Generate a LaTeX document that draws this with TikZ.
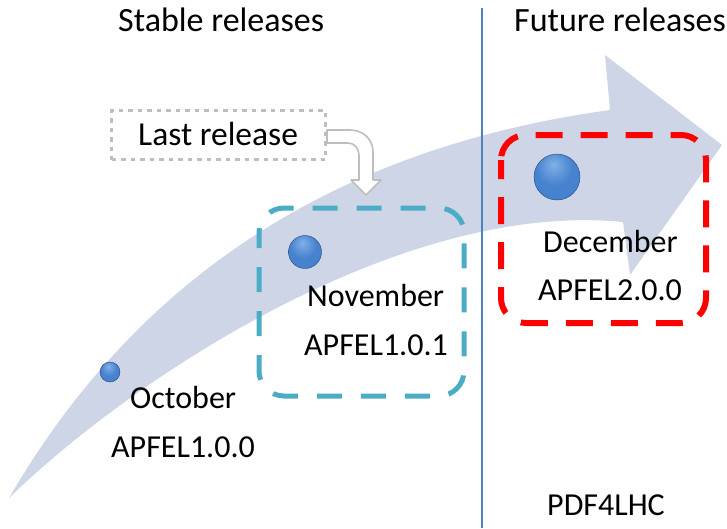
\documentclass[tikz,border=0pt]{standalone}
\usepackage{fontspec}
\setmainfont{Carlito}
\definecolor{arrowfill}{RGB}{206,213,230}
\definecolor{vline}{RGB}{79,129,189}
\definecolor{cyanbox}{RGB}{75,172,198}
\definecolor{redbox}{RGB}{255,0,0}
\definecolor{graybox}{RGB}{190,190,190}
\definecolor{bhi}{RGB}{130,176,232}
\definecolor{bmid}{RGB}{70,130,205}
\definecolor{bdark}{RGB}{40,90,160}
\pgfdeclareradialshading{ballblue}{\pgfpoint{-4bp}{14bp}}{color(0bp)=(bhi); color(20bp)=(bmid); color(42bp)=(bmid); color(52bp)=(bdark); color(80bp)=(bdark)}
\begin{document}
\begin{tikzpicture}[x=1pt,y=-1pt,
  lbl/.style={anchor=base west,inner sep=0pt,font=\fontsize{32}{36}\selectfont},
  ttl/.style={anchor=base west,inner sep=0pt,font=\fontsize{34}{38}\selectfont},
  ball/.style={circle,inner sep=0pt,shading=ballblue,draw=bdark!80!black,line width=0.4pt},
  relbox/.style={rounded corners=25pt,dashed},
]
\useasboundingbox (0,0) rectangle (727,528);
% big curved arrow
\fill[arrowfill] (9,498) .. controls (130,290) and (320,150) .. (610,110)
  -- (605,55) -- (722,145) -- (630,275) -- (623,222)
  .. controls (400,200) and (130,380) .. (9,498) -- cycle;
% separator line
\draw[vline,line width=2.5pt] (482,8) -- (482,528);
% release boxes
\draw[relbox,cyanbox,line width=5pt,dash pattern=on 25pt off 19pt,dash phase=10pt]
  (259,208) rectangle (464,396);
\draw[relbox,redbox,line width=6pt,dash pattern=on 27pt off 18pt,dash phase=8pt]
  (501,135) rectangle (706,323);
% last release callout
\node[draw=graybox,line width=3pt,dash pattern=on 4.5pt off 5pt,minimum width=214pt,minimum height=49pt,inner sep=0pt] (last) at (218.5,135) {};
\node[anchor=base west,inner sep=0pt,font=\fontsize{33.5}{38}\selectfont] (lasttxt) at (138,145) {Last release};
\filldraw[draw=graybox,fill=white,line width=1.6pt,line join=round]
  (last.east |- 0,130) -- (350,130) .. controls (363,130) and (373,139) .. (373,152)
  -- (373,180) -- (381,180) -- (366,195) -- (351,180) -- (359,180) -- (359,155)
  .. controls (359,148) and (354,143) .. (348,143) -- (last.east |- 0,143) -- cycle;
\coordinate (lastin) at (366,195);
% balls
\node[ball,minimum size=20pt] (b1) at (110,372) {};
\node[ball,minimum size=33pt] (b2) at (305,252) {};
\node[ball,minimum size=46pt] (b3) at (557,177) {};
% texts
\node[ttl] (stable) at (118,31) {Stable releases};
\node[ttl] (future) at (514,31) {Future releases};
\node[lbl] (oct) at (130,408) {October};
\node[lbl] (a100) at (111,457) {APFEL1.0.0};
\node[lbl] (nov) at (307,306) {November};
\node[lbl] (a101) at (304,355) {APFEL1.0.1};
\node[lbl] (dec) at (543,252) {December};
\node[lbl] (a200) at (538,300.5) {APFEL2.0.0};
\node[lbl] (pdf) at (547,515) {PDF4LHC};
\end{tikzpicture}
\end{document}
